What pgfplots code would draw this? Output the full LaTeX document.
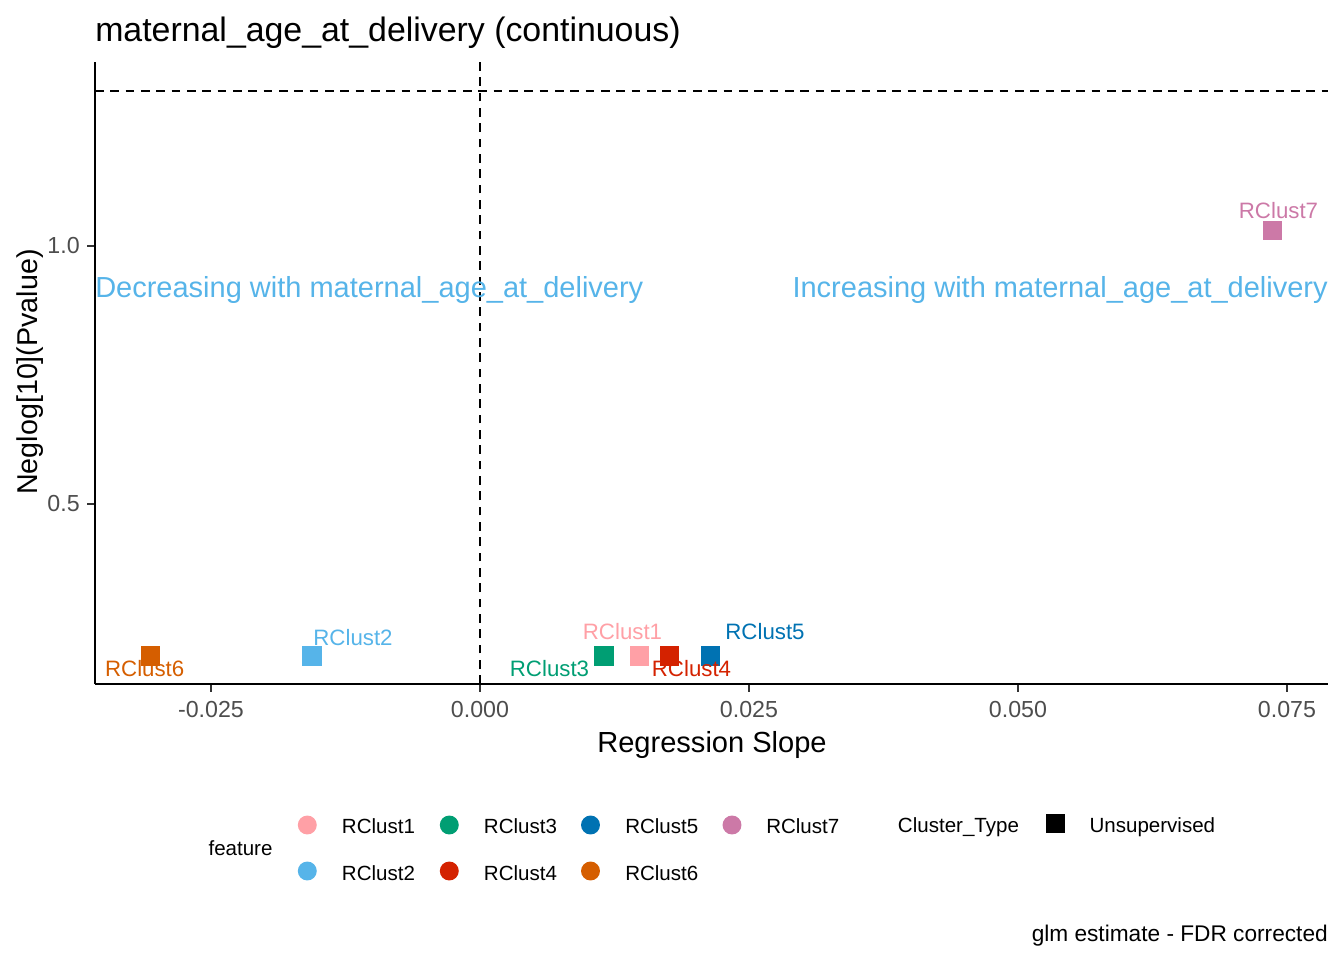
\documentclass[border=0pt]{standalone}
\usepackage{fontspec}
\setmainfont{Liberation Sans}
\usepackage{pgfplots}
\pgfplotsset{compat=1.18}
\definecolor{c1}{HTML}{FFA0A6}
\definecolor{c2}{HTML}{56B4E9}
\definecolor{c3}{HTML}{009E73}
\definecolor{c4}{HTML}{D42200}
\definecolor{c5}{HTML}{0072B2}
\definecolor{c6}{HTML}{D55E00}
\definecolor{c7}{HTML}{CC79A7}
\definecolor{tickgray}{HTML}{4D4D4D}
\definecolor{tickline}{HTML}{333333}
\newcommand{\fs}[1]{\fontsize{#1}{#1}\selectfont}
\pgfplotsset{pt/.style={only marks, mark=square*, mark size=7.1pt, color=#1, mark options={line width=0pt, fill=#1, draw=#1}}}
\begin{document}
\begin{tikzpicture}
\begin{axis}[
  scale only axis,
  width=924.75pt, height=466.3pt,
  at={(0,0)}, anchor=south west,
  xmin=-0.03578, xmax=0.07881,
  ymin=0.1512, ymax=1.356,
  axis x line*=bottom, axis y line*=left,
  axis line style={-, line width=1.6pt, black},
  tick align=outside, major tick length=5.8pt,
  tick style={color=tickline, line width=1.2pt},
  xtick={-0.025,0,0.025,0.05,0.075},
  xticklabels={-0.025,0.000,0.025,0.050,0.075},
  ytick={0.5,1.0},
  yticklabels={0.5,1.0},
  xticklabel style={font=\fs{17.4}, color=tickgray, anchor=north, inner sep=0pt, yshift=-6.7pt},
  yticklabel style={font=\fs{17.4}, color=tickgray, anchor=east, inner sep=0pt, xshift=-5.45pt},
  scaled x ticks=false,
]
  % reference lines: p = 0.05 and zero slope
  \addplot[black, line width=1.4pt, dash pattern=on 6.5pt off 5pt] coordinates {(-0.03578,1.30103) (0.07881,1.30103)};
  \addplot[black, line width=1.4pt, dash pattern=on 6.5pt off 5pt] coordinates {(0,0.1512) (0,1.356)};
  % clusters
  \addplot[pt=c1] coordinates {(0.01482,0.2048)};
  \addplot[pt=c2] coordinates {(-0.01559,0.2048)};
  \addplot[pt=c3] coordinates {(0.01150,0.2048)};
  \addplot[pt=c4] coordinates {(0.01761,0.2048)};
  \addplot[pt=c5] coordinates {(0.02142,0.2048)};
  \addplot[pt=c6] coordinates {(-0.03062,0.2048)};
  \addplot[pt=c7] coordinates {(0.07365,1.030)};
\end{axis}
\begin{scope}[x=0.75pt, y=0.75pt]
  \path[use as bounding box] (-95,-276) rectangle (1249,684);
  % title and axis titles
  \node[anchor=base west, inner sep=0pt, font=\fs{25.4}] at (0,642) {maternal\_age\_at\_delivery (continuous)};
  \node[anchor=base, inner sep=0pt, font=\fs{21.8}] at (617,-68) {Regression Slope};
  \node[anchor=base, inner sep=0pt, rotate=90, font=\fs{21.5}] at (-57,312) {Neglog[10](Pvalue)};
  % annotations
  \node[anchor=base west, inner sep=0pt, font=\fs{21.75}, text=c2] at (0,386.6) {Decreasing with maternal\_age\_at\_delivery};
  \node[anchor=base east, inner sep=0pt, font=\fs{21.75}, text=c2] at (1233,386.6) {Increasing with maternal\_age\_at\_delivery};
  % point labels
  \begin{scope}[every node/.style={anchor=base, inner sep=0pt, font=\fs{16.7}}]
    \node[text=c6] at (49.7,8) {RClust6};
    \node[text=c2] at (258,39) {RClust2};
    \node[text=c3] at (454.5,8) {RClust3};
    \node[text=c1] at (527.5,45) {RClust1};
    \node[text=c4] at (596.5,8) {RClust4};
    \node[text=c5] at (670,45) {RClust5};
    \node[text=c7] at (1183.5,465) {RClust7};
  \end{scope}
  % legend
  \begin{scope}[every node/.style={anchor=base west, inner sep=0pt, font=\fs{15.4}}]
    \node at (113.3,-171) {feature};
    \fill[c1] (212.3,-141) circle (7.1pt);
    \fill[c3] (354.3,-141) circle (7.1pt);
    \fill[c5] (495.5,-141) circle (7.1pt);
    \fill[c7] (637,-141) circle (7.1pt);
    \fill[c2] (212.3,-187) circle (7.1pt);
    \fill[c4] (354.3,-187) circle (7.1pt);
    \fill[c6] (495.5,-187) circle (7.1pt);
    \node at (246.7,-149.3) {RClust1};
    \node at (388.7,-149.3) {RClust3};
    \node at (530,-149.3) {RClust5};
    \node at (671,-149.3) {RClust7};
    \node at (246.7,-196) {RClust2};
    \node at (388.7,-196) {RClust4};
    \node at (530,-196) {RClust6};
    \node at (802.7,-148.3) {Cluster\_Type};
    \fill[black] (950.8,-149.2) rectangle (970.2,-129.8);
    \node at (994.3,-148.3) {Unsupervised};
  \end{scope}
  \node[anchor=base east, inner sep=0pt, font=\fs{17}] at (1233,-257) {glm estimate - FDR corrected};
\end{scope}
\end{tikzpicture}
\end{document}
